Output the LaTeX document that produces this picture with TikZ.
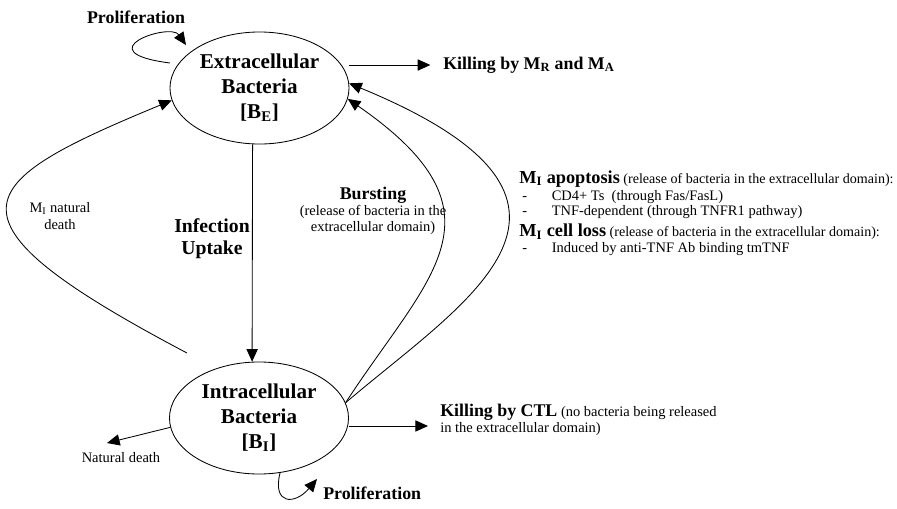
\documentclass[tikz,border=0pt]{standalone}
\usepackage{fontspec}
\setmainfont{Liberation Serif}
\usepackage{tikz}
\usetikzlibrary{shapes.geometric,arrows.meta,positioning,calc}

\tikzset{
  state/.style={ellipse, draw, line width=0.6pt, minimum width=4.475cm, minimum height=2.8cm, inner sep=0pt, align=center, font=\fontsize{15}{17.8}\selectfont\bfseries},
  arr/.style={line width=0.6pt, -{Triangle[length=9pt,width=8pt]}},
  boldlbl/.style={inner sep=0pt, font=\fontsize{12.7}{15}\selectfont\bfseries},
  note/.style={inner sep=0pt, font=\fontsize{10.3}{11.5}\selectfont},
  headnote/.style={inner sep=0pt, font=\fontsize{10}{11.5}\selectfont},
}
\newcommand{\hd}[1]{{\fontsize{12.7}{14}\selectfont\bfseries #1}}
\newcommand{\mhd}[1]{{\fontsize{13}{15}\selectfont\bfseries #1}}
\newcommand{\dashitem}{\makebox[21pt][l]{-}}

\begin{document}
\begin{tikzpicture}[x=0.025cm, y=-0.025cm]
            \useasboundingbox (0,0) rectangle (897,508);

            \node [state] (BE) at (259.5,88) {Extracellular\\Bacteria\\{[B\textsubscript{E}]}};
            \node [state] (BI) at (259,418) {Intracellular\\Bacteria\\{[B\textsubscript{I}]}};

            % Labels
            \node [boldlbl] (prolE) at (136,17) {Proliferation};
            \node [boldlbl, anchor=west] (prolI) at (323,493) {Proliferation};
            \node [boldlbl, anchor=west] (killMR) at (443,65) {Killing by M\textsubscript{R} and M\textsubscript{A}};
            \node [inner sep=0pt, align=center, font=\fontsize{14}{15.6}\selectfont\bfseries] (infect) at (212,239) {Infection\\Uptake};
            \node [note, align=center] (burst) at (373,211) {\hd{Bursting}\\(release of bacteria in the\\extracellular domain)};
            \node [note, align=center] (natMI) at (60,216) {M\textsubscript{I} natural\\death};
            \node [note] (natDeath) at (121,458) {Natural death};
            \node [note, anchor=north west, align=left] (ctl) at (440,404) {\hd{Killing by CTL} (no bacteria being released\\in the extracellular domain)};

            % Release of bacteria from M_I
            \node [headnote, anchor=west] (apoHead) at (519,179) {\mhd{M\textsubscript{I} apoptosis} (release of bacteria in the extracellular domain):};
            \node [note, anchor=west] (apo1) at (522,197) {\dashitem CD4+ Ts\ \ (through Fas/FasL)};
            \node [note, anchor=west] (apo2) at (522,212) {\dashitem TNF-dependent (through TNFR1 pathway)};
            \node [headnote, anchor=west] (lossHead) at (519,232) {\mhd{M\textsubscript{I} cell loss} (release of bacteria in the extracellular domain):};
            \node [note, anchor=west] (loss1) at (522,249) {\dashitem Induced by anti-TNF Ab binding tmTNF};

            % Free ends
            \coordinate (loopEa) at (170,63);
            \coordinate (loopEb) at (186,45);
            \coordinate (loopIb) at (317,479);
            \coordinate (ctlIn) at (428,426);
            \coordinate (natIn) at (107,443);
            \coordinate (natMIout) at (187,353);

            % Transitions
            \draw [arr] (BE.263) -- (BI.97);
            \draw [arr, shorten >=9pt] (BE.east |- killMR.west) -- (killMR.west);
            \draw [arr] (BI.east |- ctlIn) -- (ctlIn);
            \draw [arr] (BI.186) -- (natIn);
            \draw [arr] (BI.10) .. controls (428,276) and (514,214) .. (BE.-7);
            \draw [arr] (BI.10) .. controls (466,300) and (637,202) .. (BE.3);
            \draw [arr] (natMIout) .. controls (-71,217) and (-28,183) .. (BE.188);

            % Proliferation loops
            \draw [arr] (loopEa) .. controls (84,52) and (170,22) .. (loopEb);
            \draw [arr] (BI.-69) .. controls (272,505) and (295,505) .. (loopIb);
        \end{tikzpicture}
\end{document}
